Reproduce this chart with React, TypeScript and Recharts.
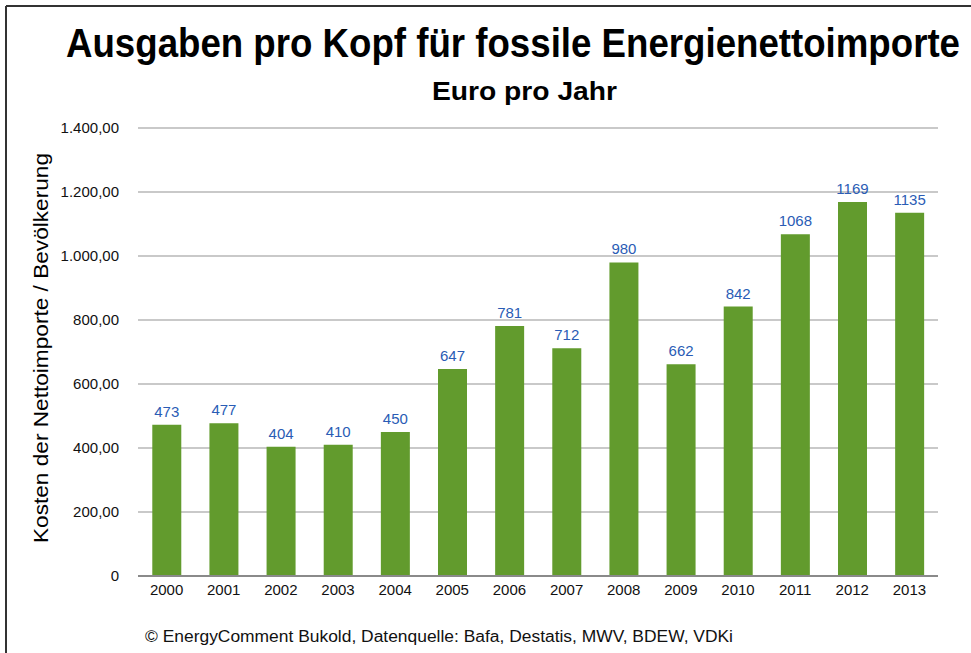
import React from "react";
import { BarChart, Bar, XAxis, YAxis, CartesianGrid, LabelList } from "recharts";

const years = ["2000", "2001", "2002", "2003", "2004", "2005", "2006", "2007", "2008", "2009", "2010", "2011", "2012", "2013"];
const costs = [473, 477, 404, 410, 450, 647, 781, 712, 980, 662, 842, 1068, 1169, 1135];
const yTicks = [0, 200, 400, 600, 800, 1000, 1200, 1400];
const yTickLabels = ["0", "200,00", "400,00", "600,00", "800,00", "1.000,00", "1.200,00", "1.400,00"];

const title = "Ausgaben pro Kopf für fossile Energienettoimporte";
const subtitle = "Euro pro Jahr";
const yLabel = "Kosten der Nettoimporte / Bevölkerung";
const footer = "© EnergyComment Bukold, Datenquelle: Bafa, Destatis, MWV, BDEW, VDKi";

const data = years.map((y, i) => ({ year: y, value: costs[i] }));

const FONT = "'Liberation Sans', Arial, Helvetica, sans-serif";

export default function App() {
  return (
    <div style={{ position: "absolute", left: 0, top: 0, width: 971, height: 653, background: "#fff", fontFamily: FONT }}>
      <BarChart
        width={971}
        height={653}
        data={data}
        margin={{ top: 128, right: 33, bottom: 0, left: 0 }}
        barCategoryGap="25%"
      >
        <CartesianGrid vertical={false} stroke="#c9c9c9" strokeWidth={2} />
        <XAxis
          dataKey="year"
          axisLine={{ stroke: "#8a8a8a", strokeWidth: 2 }}
          tickLine={false}
          tickSize={0}
          tickMargin={8}
          height={77}
          tick={{ fill: "#111", fontSize: 15, fontFamily: FONT }}
          interval={0}
        />
        <YAxis
          domain={[0, 1400]}
          ticks={yTicks}
          width={138}
          axisLine={false}
          tickLine={false}
          tickSize={0}
          tickMargin={19}
          tickFormatter={(v: number) => yTickLabels[yTicks.indexOf(v)]}
          tick={{ fill: "#111", fontSize: 15, fontFamily: FONT }}
        />
        <Bar dataKey="value" fill="#629b2d" isAnimationActive={false}>
          <LabelList
            dataKey="value"
            position="top"
            offset={8}
            fill="#2a5cb5"
            fontSize={15}
            fontFamily={FONT}
          />
        </Bar>
      </BarChart>
      <svg
        width={971}
        height={653}
        style={{ position: "absolute", left: 0, top: 0, pointerEvents: "none" }}
      >
        <line x1={6} y1={6} x2={971} y2={6} stroke="#333" strokeWidth={2} />
        <line x1={6} y1={6} x2={6} y2={653} stroke="#333" strokeWidth={2} />
        <text
          x={0}
          y={0}
          transform="translate(66,57) scale(1,1.212)"
          fontSize={33}
          fontWeight="bold"
          fontFamily={FONT}
          fill="#000"
          textLength={894}
          lengthAdjust="spacingAndGlyphs"
        >
          {title}
        </text>
        <text x={432} y={100} fontSize={25} fontWeight="bold" fontFamily={FONT} fill="#000" textLength={185} lengthAdjust="spacingAndGlyphs">
          {subtitle}
        </text>
        <text
          x={0}
          y={0}
          transform="translate(48,543) rotate(-90)"
          fontSize={21}
          fontFamily={FONT}
          fill="#000"
          textLength={390}
          lengthAdjust="spacingAndGlyphs"
        >
          {yLabel}
        </text>
        <text x={145} y={642} fontSize={16} fontFamily={FONT} fill="#111" textLength={588} lengthAdjust="spacingAndGlyphs">
          {footer}
        </text>
      </svg>
    </div>
  );
}
